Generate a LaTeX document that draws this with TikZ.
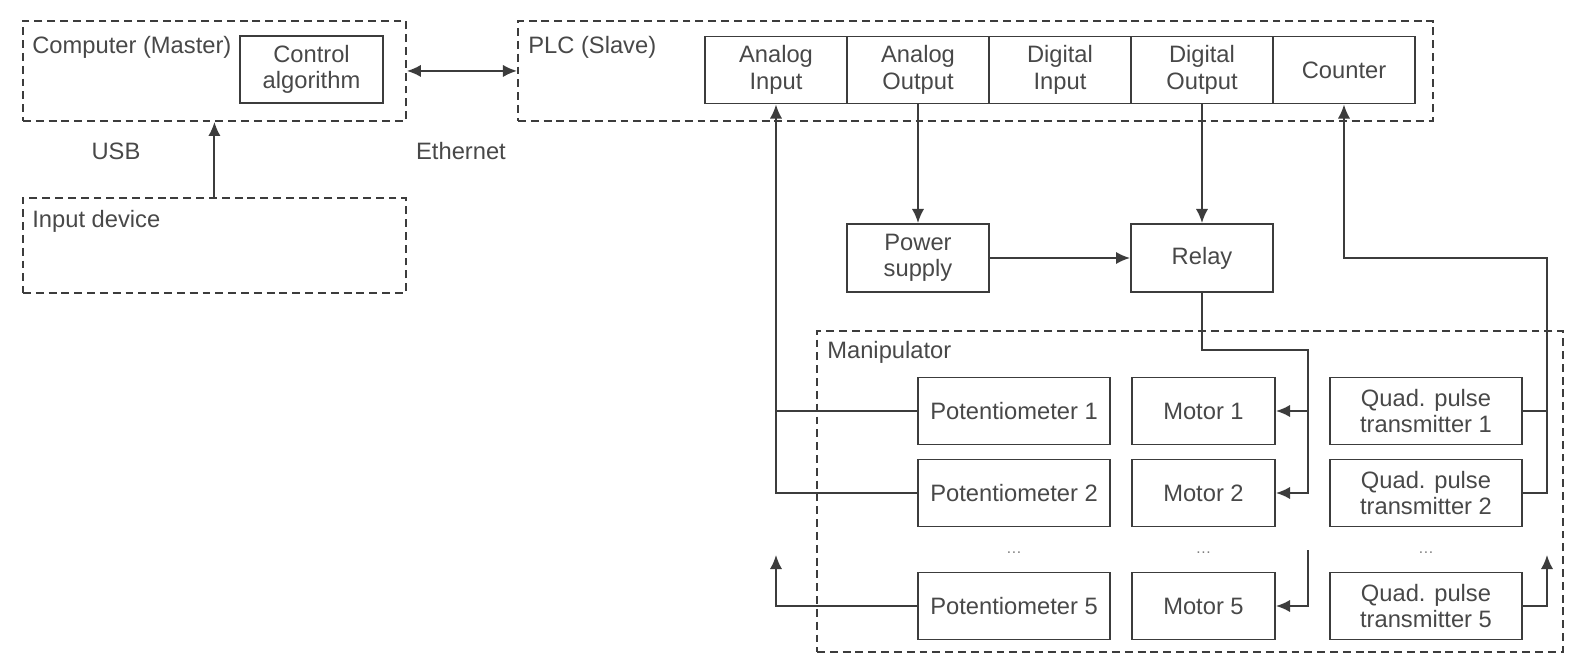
\documentclass[tikz,border=0pt]{standalone}
\usepackage{fontspec}
\setmainfont{Liberation Sans}
\usepackage{tikz}
\usetikzlibrary{arrows.meta}
\definecolor{linegray}{HTML}{3C3C3C}
\definecolor{textgray}{HTML}{484848}
\tikzset{
	blk/.style={draw=linegray, line width=1.1pt, align=center, inner sep=0pt, text=textgray, font=\fontsize{13.5}{15}\selectfont},
	grp/.style={draw=linegray, line width=1.1pt, dash pattern=on 4.5pt off 2.8pt, inner sep=0pt, anchor=north west},
	lbl/.style={text=textgray, font=\fontsize{13.5}{15}\selectfont, inner sep=0pt},
	wire/.style={draw=linegray, line width=1.1pt},
	arr/.style={wire, arrows={-Latex[length=8pt, width=7pt]}},
}

\begin{document}
\begin{tikzpicture}[x=0.02cm, y=-0.02cm]
		\useasboundingbox (0, 0) rectangle (1570, 655);

		% computer side
		\node[grp, minimum width=7.66cm, minimum height=2cm] (comp) at (22, 20) {};
		\node[lbl, anchor=west] (complbl) at (32, 47) {Computer (Master)};
		\node[blk, minimum width=2.86cm, minimum height=1.34cm] (ctrl) at (311.5, 69.5) {Control\\algorithm};
		\node[grp, minimum width=7.66cm, minimum height=1.9cm] (input) at (22, 197) {};
		\node[lbl, anchor=west] (inputlbl) at (32, 221) {Input device};
		\node[lbl] (usb) at (116, 151) {USB};
		\node[lbl] (eth) at (461, 151) {Ethernet};

		% plc with its modules
		\node[grp, minimum width=18.3cm, minimum height=2cm] (plc) at (517, 20) {};
		\node[lbl, anchor=west] (plclbl) at (528, 47) {PLC (Slave)};
		\node[blk, minimum width=2.84cm, minimum height=1.34cm] (ai) at (776, 70) {Analog\\Input};
		\node[blk, minimum width=2.84cm, minimum height=1.34cm] (ao) at (918, 70) {Analog\\Output};
		\node[blk, minimum width=2.84cm, minimum height=1.34cm] (di) at (1060, 70) {Digital\\Input};
		\node[blk, minimum width=2.84cm, minimum height=1.34cm] (do) at (1202, 70) {Digital\\Output};
		\node[blk, minimum width=2.84cm, minimum height=1.34cm] (cnt) at (1344, 70) {Counter};

		\node[blk, minimum width=2.84cm, minimum height=1.36cm] (power) at (918, 258) {Power\\supply};
		\node[blk, minimum width=2.84cm, minimum height=1.36cm] (relay) at (1202, 258) {Relay};

		% manipulator
		\node[grp, minimum width=14.92cm, minimum height=6.42cm] (manip) at (816, 330) {};
		\node[lbl, anchor=west] (maniplbl) at (827, 352) {Manipulator};
		\node[blk, minimum width=3.84cm, minimum height=1.34cm] (pot1) at (1014, 411) {Potentiometer 1};
		\node[blk, minimum width=3.84cm, minimum height=1.34cm] (pot2) at (1014, 493) {Potentiometer 2};
		\node[blk, minimum width=3.84cm, minimum height=1.34cm] (pot5) at (1014, 606) {Potentiometer 5};
		\node[blk, minimum width=2.86cm, minimum height=1.34cm] (mot1) at (1203.5, 411) {Motor 1};
		\node[blk, minimum width=2.86cm, minimum height=1.34cm] (mot2) at (1203.5, 493) {Motor 2};
		\node[blk, minimum width=2.86cm, minimum height=1.34cm] (mot5) at (1203.5, 606) {Motor 5};
		\node[blk, minimum width=3.84cm, minimum height=1.34cm] (quad1) at (1426, 411) {Quad. pulse\\transmitter 1};
		\node[blk, minimum width=3.84cm, minimum height=1.34cm] (quad2) at (1426, 493) {Quad. pulse\\transmitter 2};
		\node[blk, minimum width=3.84cm, minimum height=1.34cm] (quad5) at (1426, 606) {Quad. pulse\\transmitter 5};
		\node[lbl, font=\small, text=gray] (potdots) at (1014, 553) {\dots};
		\node[lbl, font=\small, text=gray] (motdots) at (1203.5, 553) {\dots};
		\node[lbl, font=\small, text=gray] (quaddots) at (1426, 553) {\dots};

		\coordinate (potup) at (776, 555);
		\coordinate (relayjoin) at (1308, 350);
		\coordinate (mottop) at (1308, 550);
		\coordinate (cntjoin) at (1547, 258);
		\coordinate (quadup) at (1547, 555);

		% connections
		\draw[wire, arrows={Latex[length=8pt, width=7pt]-Latex[length=8pt, width=7pt]}] (comp.east) -- (plc.west);
		\draw[arr] (input.north) -- (comp.south);
		\draw[arr] (ao.south) -- (power.north);
		\draw[arr] (do.south) -- (relay.north);
		\draw[arr] (power.east) -- (relay.west);

		\draw[arr] (pot2.west) -| (ai.south);
		\draw[wire] (pot1.west) -- (pot1.west -| ai.south);
		\draw[arr] (pot5.west) -| (potup);

		\draw[arr] (relay.south) |- (relayjoin) |- (mot2.east);
		\draw[arr] (mot1.east -| relayjoin) -- (mot1.east);
		\draw[arr] (mottop) |- (mot5.east);

		\draw[wire, arrows={Latex[length=8pt, width=7pt]-}] (cnt.south) |- (cntjoin) |- (quad2.east);
		\draw[wire] (quad1.east) -- (quad1.east -| cntjoin);
		\draw[arr] (quad5.east) -| (quadup);

	\end{tikzpicture}
\end{document}
